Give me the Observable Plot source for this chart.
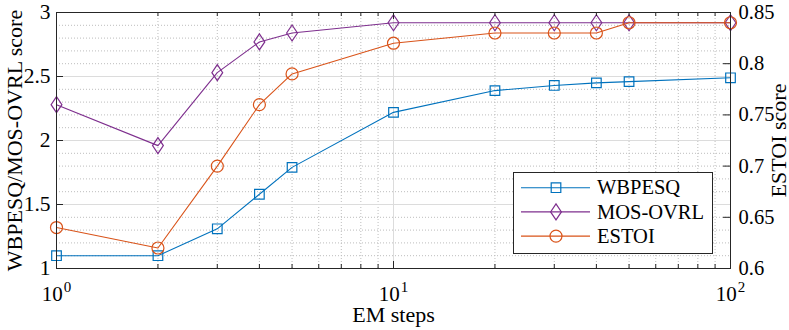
<!DOCTYPE html>
<html><head><meta charset="utf-8">
<script src="https://cdn.jsdelivr.net/npm/d3@7"></script>
<script src="https://cdn.jsdelivr.net/npm/@observablehq/plot@0.6"></script>
<style>
html,body{margin:0;padding:0;background:#fff;}
#wrap{position:relative;width:789px;height:330px;font-family:"Liberation Serif";}
#wrap svg, #wrap svg g, #wrap svg text, #wrap svg tspan{font-family:"Liberation Serif" !important;font-variant:normal !important;font-variant-numeric:normal !important;}
#legend{position:absolute;left:513px;top:172px;}
</style></head>
<body><div id="wrap"></div>
<script>
// ---- data ----
const steps   = [1, 2, 3, 4, 5, 10, 20, 30, 40, 50, 100];
const wbpesq  = [1.10, 1.10, 1.31, 1.58, 1.79, 2.22, 2.39, 2.43, 2.45, 2.46, 2.49];
const mosOvrl = [2.28, 1.96, 2.53, 2.77, 2.84, 2.92, 2.92, 2.92, 2.92, 2.92, 2.92];
const estoi   = [0.64, 0.62, 0.70, 0.76, 0.79, 0.82, 0.83, 0.83, 0.83, 0.84, 0.84];
const seriesNames = ["WBPESQ", "MOS-OVRL", "ESTOI"];
const seriesColors = ["#0072BD", "#7E2F8E", "#D95319"];
const xMajorTicks = [1, 10, 100];
const xMinorTicks = [2, 3, 4, 5, 6, 7, 8, 9, 20, 30, 40, 50, 60, 70, 80, 90];
const yLeftTicks = [1, 1.5, 2, 2.5, 3];
const yLeftMinor = [1.1, 1.2, 1.3, 1.4, 1.6, 1.7, 1.8, 1.9, 2.1, 2.2, 2.3, 2.4, 2.6, 2.7, 2.8, 2.9];
const yRightTicks = [0.6, 0.65, 0.7, 0.75, 0.8, 0.85];
const xLabel = "EM steps";
const yLeftLabel = "WBPESQ/MOS-OVRL score";
const yRightLabel = "ESTOI score";

// ---- layout ----
const FONT = "Liberation Serif";
const W = 789, H = 330, mL = 56, mR = 59, mT = 12, mB = 62;
const iw = W - mL - mR, ih = H - mT - mB;
const axisColor = "#262626";
// right axis (ESTOI, 0.6..0.85) mapped onto the left scale (1..3)
const toLeft = v => 1 + (v - 0.6) * 8;
const fromLeft = v => 0.6 + (v - 1) / 8;

const rows = steps.map((s, i) => ({step: s, WBPESQ: wbpesq[i], "MOS-OVRL": mosOvrl[i], ESTOI: toLeft(estoi[i])}));

// custom marker symbols (MATLAB-like)
const symSquare = {draw(c) { const s = 4.8; c.moveTo(-s, -s); c.lineTo(s, -s); c.lineTo(s, s); c.lineTo(-s, s); c.closePath(); }};
const symDiamond = {draw(c) { const w = 5.4, h = 8; c.moveTo(0, -h); c.lineTo(w, 0); c.lineTo(0, h); c.lineTo(-w, 0); c.closePath(); }};
const symCircle = {draw(c) { const r = 6; c.moveTo(r, 0); c.arc(0, 0, r, 0, 2 * Math.PI); c.closePath(); }};
const symbols = [symSquare, symDiamond, symCircle];

const seriesMarks = seriesNames.flatMap((name, i) => [
  Plot.line(rows, {x: "step", y: name, stroke: seriesColors[i], strokeWidth: 1.1}),
  Plot.dot(rows, {x: "step", y: name, stroke: seriesColors[i], strokeWidth: 1.2, fill: "none", symbol: symbols[i], r: 1})
]);

const chart = Plot.plot({
  width: W, height: H,
  marginLeft: mL, marginRight: mR, marginTop: mT, marginBottom: mB,
  style: {fontFamily: FONT, fontSize: "21px", background: "white", color: "black", overflow: "visible"},
  x: {type: "log", domain: [1, 100]},
  y: {domain: [1, 3]},
  marks: [
    Plot.gridX(xMinorTicks, {stroke: "#bdbdbd", strokeOpacity: 1, strokeDasharray: "1,2"}),
    Plot.gridY(yLeftMinor, {stroke: "#bdbdbd", strokeOpacity: 1, strokeDasharray: "1,2"}),
    Plot.gridX(xMajorTicks, {stroke: "#dcdcdc", strokeOpacity: 1}),
    Plot.gridY(yLeftTicks, {stroke: "#dcdcdc", strokeOpacity: 1}),
    ...seriesMarks,
    Plot.frame({stroke: axisColor}),
    // inward ticks
    Plot.tickY(yLeftTicks, {y: d => d, insetRight: iw - 7, stroke: axisColor}),
    Plot.tickY(yRightTicks.map(toLeft), {y: d => d, insetLeft: iw - 7, stroke: axisColor}),
    Plot.tickX(xMajorTicks, {x: d => d, insetTop: ih - 7, stroke: axisColor}),
    Plot.tickX(xMinorTicks, {x: d => d, insetTop: ih - 4, stroke: axisColor}),
    Plot.tickX(xMajorTicks, {x: d => d, insetBottom: ih - 7, stroke: axisColor}),
    Plot.tickX(xMinorTicks, {x: d => d, insetBottom: ih - 4, stroke: axisColor}),
    // tick labels
    Plot.axisX(xMajorTicks, {anchor: "bottom", tickSize: 0, tickPadding: 18, label: null,
      tickFormat: d => "10^" + Math.round(Math.log10(d)), fontSize: 21, fontVariant: "normal"}),
    Plot.axisY(yLeftTicks, {anchor: "left", tickSize: 0, tickPadding: 6, label: null,
      tickFormat: d => String(d), fontSize: 21.5, fontVariant: "normal"}),
    Plot.axisY(yRightTicks.map(toLeft), {anchor: "right", tickSize: 0, tickPadding: 8, label: null,
      tickFormat: d => String(+fromLeft(d).toFixed(2)), fontSize: 20.5, fontVariant: "normal"}),
    // axis titles
    Plot.text([yLeftLabel], {text: d => d, frameAnchor: "left", textAnchor: "middle", rotate: -90, dx: -42, fontSize: 22}),
    Plot.text([yRightLabel], {text: d => d, frameAnchor: "right", textAnchor: "middle", rotate: -90, dx: 48, fontSize: 22}),
    Plot.text([xLabel], {text: d => d, frameAnchor: "bottom", dy: 53, fontSize: 22})
  ]
});

const wrap = document.getElementById("wrap");
wrap.appendChild(chart);

// superscript exponents on the log axis labels
d3.select(chart).selectAll('g[aria-label="x-axis tick label"] text').each(function() {
  const t = d3.select(this);
  const parts = t.text().split("^");
  t.text(null);
  t.append("tspan").text(parts[0]);
  t.append("tspan").attr("dy", "-9").attr("dx", "1").attr("font-size", "15px").text(parts[1]);
});

// legend
const leg = d3.select(wrap).append("svg").attr("id", "legend")
  .attr("width", 200).attr("height", 82)
  .attr("font-family", FONT);
leg.append("rect").attr("x", 0.5).attr("y", 0.5).attr("width", 199).attr("height", 81)
  .attr("fill", "white").attr("stroke", axisColor);
seriesNames.forEach((name, i) => {
  const y = 15.7 + i * 24.2;
  const g = leg.append("g");
  g.append("line").attr("x1", 8).attr("x2", 77).attr("y1", y).attr("y2", y)
    .attr("stroke", seriesColors[i]).attr("stroke-width", 1.1);
  g.append("path").attr("d", d3.symbol().type(symbols[i])())
    .attr("transform", `translate(43,${y})`).attr("fill", "none")
    .attr("stroke", seriesColors[i]).attr("stroke-width", 1.2);
  g.append("text").attr("x", 84).attr("y", y).attr("dy", "0.33em")
    .attr("font-size", 20.5).attr("fill", "black").text(name);
});

// make sure every text uses the serif face
d3.select(wrap).selectAll("text").attr("font-family", FONT).style("font-family", FONT);
</script></body></html>
